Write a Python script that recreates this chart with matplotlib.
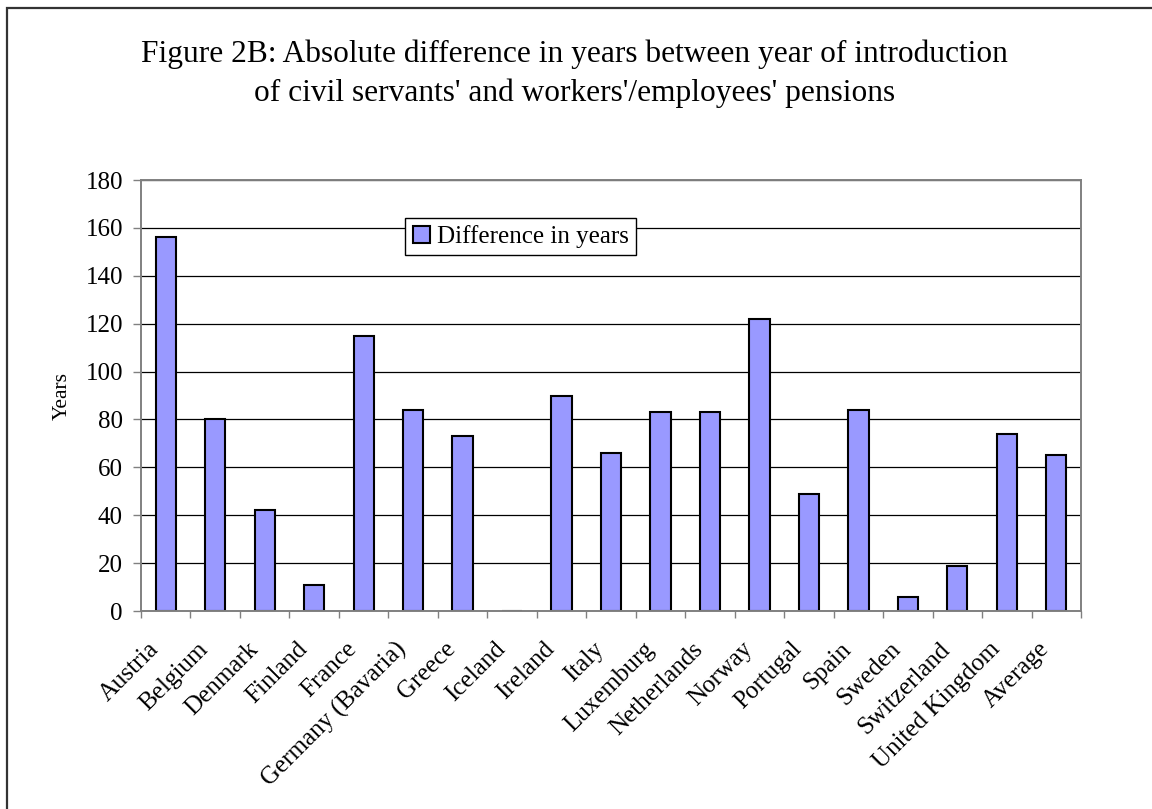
import matplotlib
matplotlib.use("Agg")
import matplotlib.pyplot as plt
from matplotlib.patches import Rectangle
from matplotlib.transforms import ScaledTranslation
import numpy as np

plt.rcParams["font.family"] = ["Liberation Serif", "DejaVu Serif"]

COUNTRIES = [
    "Austria", "Belgium", "Denmark", "Finland", "France", "Germany (Bavaria)",
    "Greece", "Iceland", "Ireland", "Italy", "Luxemburg", "Netherlands",
    "Norway", "Portugal", "Spain", "Sweden", "Switzerland", "United Kingdom",
    "Average",
]
DIFF_YEARS = [156, 80, 42, 11, 115, 84, 73, 0, 90, 66, 83, 83, 122, 49, 84, 6, 19, 74, 65]
Y_TICKS = [0, 20, 40, 60, 80, 100, 120, 140, 160, 180]

TITLE = ("Figure 2B: Absolute difference in years between year of introduction\n"
         "of civil servants' and workers'/employees' pensions")

COLOR_BAR = "#9999ff"
COLOR_FRAME = "#808080"


def main():
    fig = plt.figure(figsize=(11.52, 8.09), dpi=100, facecolor="white")
    ax = fig.add_axes([0.1224, 0.2447, 0.816, 0.5328])

    # outer chart border (runs off the right/bottom edge)
    fig.patches.append(Rectangle((7 / 1152, -0.05), 1.2, 1.04,
                                 transform=fig.transFigure, fill=False,
                                 edgecolor="#333333", linewidth=1.6))

    x = np.arange(len(COUNTRIES))
    ax.bar(x, DIFF_YEARS, width=0.41, color=COLOR_BAR, edgecolor="black",
           linewidth=1.5, label="Difference in years", zorder=2)

    ax.set_xlim(-0.5, len(COUNTRIES) - 0.5)
    ax.set_ylim(0, 180)
    ax.set_yticks(Y_TICKS)
    ax.yaxis.grid(True, color="black", linewidth=0.9)
    ax.set_axisbelow(True)

    # category labels: rotated, ending a little left of each category centre
    ax.set_xticks(x)
    ax.set_xticklabels([])
    shift = ax.get_xaxis_transform() + ScaledTranslation(-0.18, -0.27, fig.dpi_scale_trans)
    for xi, name in zip(x, COUNTRIES):
        ax.text(xi, 0, name, transform=shift, rotation=45, ha="right", va="top",
                rotation_mode="anchor", fontsize=18)
    ax.set_xticks(np.arange(-0.5, len(COUNTRIES)), minor=True)
    ax.tick_params(axis="x", which="major", length=0)
    ax.tick_params(axis="x", which="minor", length=5, width=1, color=COLOR_FRAME)
    ax.tick_params(axis="y", length=6, width=1, color=COLOR_FRAME, labelsize=18, pad=7)

    for spine in ax.spines.values():
        spine.set_color(COLOR_FRAME)
        spine.set_linewidth(1.4)

    ax.set_ylabel("Years", fontsize=15.5, labelpad=10)

    ax.legend(loc="upper left", bbox_to_anchor=(0.281, 0.913), fontsize=18,
              frameon=True, fancybox=False, edgecolor="black", framealpha=1,
              handlelength=0.68, handleheight=0.68, handletextpad=0.28,
              borderpad=0.3, borderaxespad=0)

    fig.text(0.499, 0.909, TITLE, ha="center", va="center", fontsize=22.6,
             linespacing=1.45)

    fig.savefig("out.png", dpi=100, facecolor="white")


if __name__ == "__main__":
    main()
